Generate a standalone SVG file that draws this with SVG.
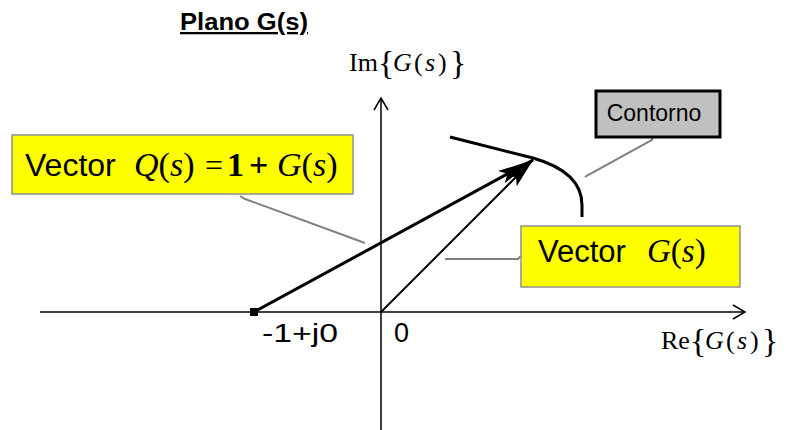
<svg xmlns="http://www.w3.org/2000/svg" width="803" height="430" viewBox="0 0 803 430">
<style>
.axis{stroke:#000;stroke-width:1.5;fill:none}
.open{stroke:#000;stroke-width:1.5;fill:none}
.lead{stroke:#808080;stroke-width:2;fill:none}
.sans{font-family:"Liberation Sans",Arial,sans-serif;fill:#000}
.serif{font-family:"Liberation Serif","Times New Roman",serif;fill:#000}
.it{font-style:italic}
.ybox{fill:#ffff00;stroke:#909090;stroke-width:1.5}
</style>
<defs>
<marker id="ahQ" viewBox="0 0 36 16" refX="36" refY="8" markerWidth="36" markerHeight="16" markerUnits="userSpaceOnUse" orient="auto">
<path d="M0,1 L36,8 L0,15 L7,8 Z" fill="#000"/>
</marker>
<marker id="ahG" viewBox="0 0 30 16" refX="30" refY="8" markerWidth="30" markerHeight="16" markerUnits="userSpaceOnUse" orient="auto">
<path d="M0,1 L30,8 L0,15 L6,8 Z" fill="#000"/>
</marker>
</defs>

<g id="title">
<text class="sans" x="180" y="30" font-size="23" font-weight="bold" text-decoration="underline" textLength="128" lengthAdjust="spacingAndGlyphs">Plano G(s)</text>
</g>

<g id="axes">
<line class="axis" x1="381" y1="98" x2="381" y2="430"/>
<polyline class="open" points="374,110 381,98 388,110"/>
<line class="axis" x1="40" y1="312" x2="745" y2="312"/>
<polyline class="open" points="733,305 745,312 733,319"/>
</g>

<g id="im-label">
<text class="serif" y="71" font-size="26"><tspan x="349">Im</tspan><tspan x="378" font-size="34" dy="3">{</tspan><tspan class="it" x="393" dy="-3">G</tspan><tspan x="414">(</tspan><tspan class="it" x="425">s</tspan><tspan x="438">)</tspan><tspan x="450" font-size="34" dy="3">}</tspan></text>
</g>

<g id="re-label">
<text class="serif" y="349" font-size="26"><tspan x="661">Re</tspan><tspan x="690" font-size="34" dy="3">{</tspan><tspan class="it" x="705" dy="-3">G</tspan><tspan x="726">(</tspan><tspan class="it" x="737">s</tspan><tspan x="750">)</tspan><tspan x="762" font-size="34" dy="3">}</tspan></text>
</g>

<g id="point-minus1">
<rect x="250" y="308" width="8" height="8" fill="#000"/>
<text class="sans" x="262" y="342" font-size="25" textLength="76" lengthAdjust="spacingAndGlyphs">-1+j0</text>
</g>

<g id="origin">
<text class="sans" x="394" y="342" font-size="27">0</text>
</g>

<g id="contour">
<path d="M450,137 L533,158 Q582,172 582,205 L582,217" stroke="#000" stroke-width="3" fill="none"/>
</g>

<g id="connectors">
<line x1="254" y1="312" x2="533" y2="160" stroke="#000" stroke-width="3" marker-end="url(#ahQ)"/>
<line x1="381" y1="312" x2="533" y2="160" stroke="#000" stroke-width="2" marker-end="url(#ahG)"/>
<polyline class="lead" points="240,196 245,199 365,243"/>
<polyline class="lead" points="445,259 518,259 521,256"/>
<polyline class="lead" points="585,177 588,175 652,140 652,137"/>
</g>

<g id="box-Q">
<rect class="ybox" x="12" y="135" width="341" height="59"/>
<text y="176" font-size="32"><tspan class="sans" x="25">Vector</tspan><tspan class="serif it" x="134" font-size="34">Q</tspan><tspan class="serif" font-size="34">(</tspan><tspan class="serif it" font-size="34">s</tspan><tspan class="serif" font-size="34">)</tspan><tspan class="serif" x="205" font-size="32">=</tspan><tspan class="serif" x="227" font-size="34" font-weight="bold">1</tspan><tspan class="serif" x="249" font-size="34" font-weight="bold">+</tspan><tspan class="serif it" x="277" font-size="34">G</tspan><tspan class="serif" font-size="34">(</tspan><tspan class="serif it" font-size="34">s</tspan><tspan class="serif" font-size="34">)</tspan></text>
</g>

<g id="box-G">
<rect class="ybox" x="521" y="226" width="219" height="61"/>
<text y="262" font-size="31"><tspan class="sans" x="538">Vector</tspan><tspan class="serif it" x="647" font-size="33">G</tspan><tspan class="serif" font-size="33">(</tspan><tspan class="serif it" font-size="33">s</tspan><tspan class="serif" font-size="33">)</tspan></text>
</g>

<g id="box-contorno">
<rect x="596" y="91" width="124" height="46" fill="#c0c0c0" stroke="#000" stroke-width="3"/>
<text class="sans" x="654" y="121" font-size="23" text-anchor="middle">Contorno</text>
</g>
</svg>
